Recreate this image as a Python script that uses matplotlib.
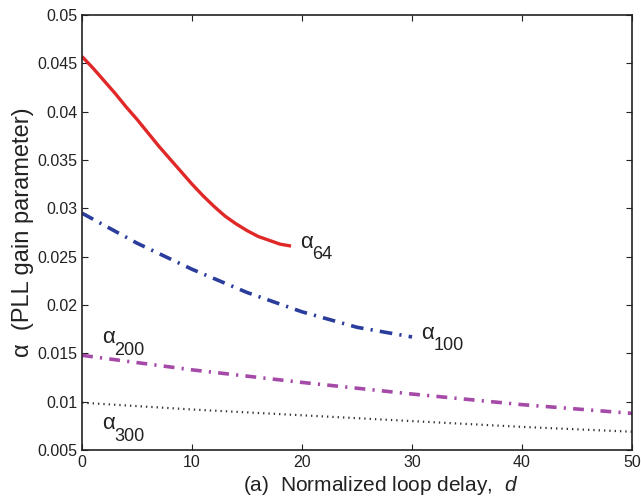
import numpy as np
import matplotlib.pyplot as plt

plt.rcParams['font.family'] = ['Liberation Sans', 'DejaVu Sans']
plt.rcParams['mathtext.fontset'] = 'custom'
plt.rcParams['mathtext.rm'] = 'Liberation Sans'
plt.rcParams['mathtext.it'] = 'Liberation Sans:italic'

# gain parameter vs normalized loop delay, one curve per block length
d_64 = [0, 1, 2, 3, 4, 5, 6, 7, 8, 9, 10, 11, 12, 13, 14, 15, 16, 17, 18, 19]
a_64 = [0.0457, 0.0445, 0.0432, 0.0419, 0.0405, 0.0392, 0.0378, 0.0364, 0.0351, 0.0338,
        0.0325, 0.0313, 0.0302, 0.0292, 0.0284, 0.0277, 0.0271, 0.0267, 0.0263, 0.0261]

d_100 = [0, 5, 10, 15, 20, 25, 30]
a_100 = [0.0295, 0.0264, 0.0237, 0.0213, 0.0193, 0.0177, 0.0167]

d_200 = [0, 10, 20, 30, 40, 50]
a_200 = [0.0148, 0.0133, 0.0120, 0.0108, 0.0097, 0.0088]

d_300 = [0, 10, 20, 30, 40, 50]
a_300 = [0.0099, 0.0092, 0.0086, 0.0080, 0.0074, 0.0069]

labels = ['64', '100', '200', '300']
label_pos = [(19.8, 0.0265), (30.8, 0.0171), (1.8, 0.0166), (1.8, 0.0077)]

fig = plt.figure(figsize=(6.41, 4.99), dpi=100)
ax = fig.add_axes([0.128, 0.098, 0.858, 0.872])

ax.plot(d_64, a_64, color='#e02828', linewidth=2.4, solid_capstyle='butt')
ax.plot(d_100, a_100, color='#2a3c9c', linewidth=2.6, linestyle=(0, (3.5, 2, 0.6, 2)))
ax.plot(d_200, a_200, color='#a54aa8', linewidth=2.6, linestyle=(0, (3, 2, 0.6, 2)))
ax.plot(d_300, a_300, color='#333333', linewidth=1.6, linestyle=(0, (0.6, 1.8)))

# curve labels: upright alpha with a dropped subscript
for lab, (x, y) in zip(labels, label_pos):
    ax.annotate('α', (x, y), fontsize=16, va='center', color='#222222')
    ax.annotate(lab, (x, y), xytext=(9, -9), textcoords='offset points',
                fontsize=13, va='center', color='#222222')

ax.set_xlim(0, 50)
ax.set_ylim(0.005, 0.05)
ax.set_xticks([0, 10, 20, 30, 40, 50])
ax.set_yticks([0.005, 0.01, 0.015, 0.02, 0.025, 0.03, 0.035, 0.04, 0.045, 0.05])
ax.set_yticklabels(['0.005', '0.01', '0.015', '0.02', '0.025', '0.03', '0.035', '0.04', '0.045', '0.05'])
ax.tick_params(direction='in', top=True, right=True, labelsize=11.5, colors='#222222', length=4)
for s in ax.spines.values():
    s.set_linewidth(1.2)
    s.set_color('#222222')

ax.set_xlabel('(a)  Normalized loop delay,  $\\it{d}$', fontsize=15, color='#222222')
ax.xaxis.set_label_coords(0.542, -0.056)
ax.set_ylabel('α  (PLL gain parameter)', fontsize=17, labelpad=2, color='#222222')

fig.savefig('out.png', dpi=100)
